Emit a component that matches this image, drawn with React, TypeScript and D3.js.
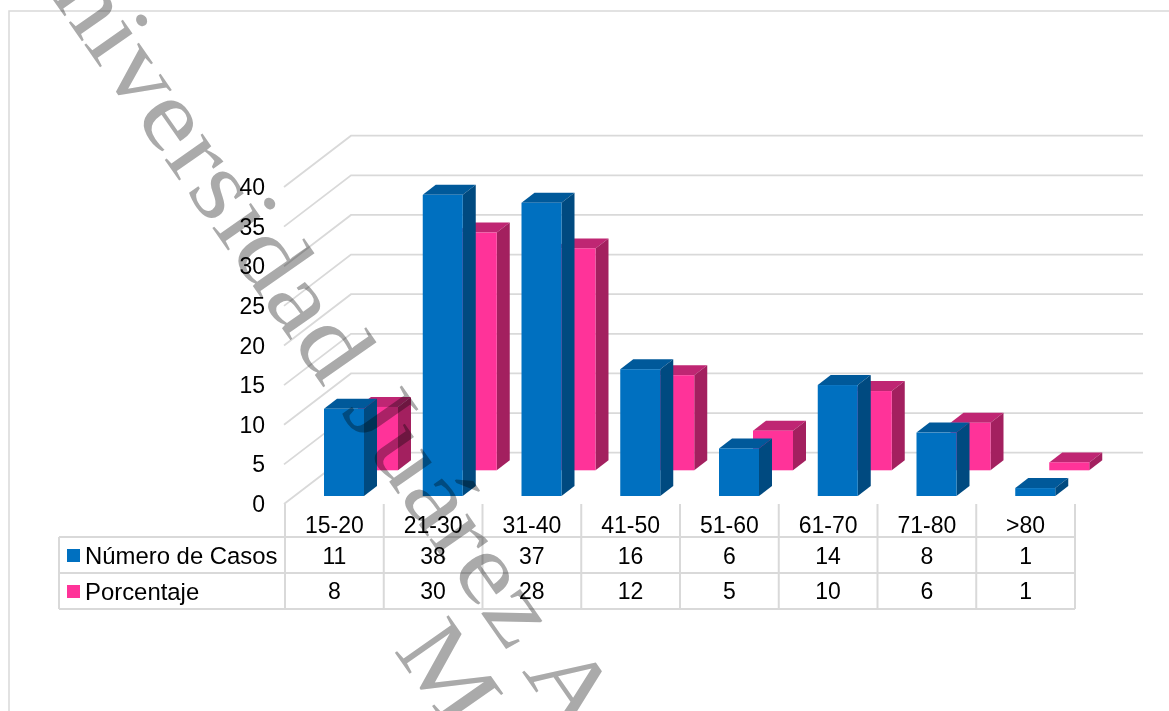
import React from "react";
import * as d3 from "d3";

const categories = ["15-20", "21-30", "31-40", "41-50", "51-60", "61-70", "71-80", ">80"];
const casos = [11, 38, 37, 16, 6, 14, 8, 1];
const porcentaje = [8, 30, 28, 12, 5, 10, 6, 1];
const axisTicks = [0, 5, 10, 15, 20, 25, 30, 35, 40];
const seriesNames = ["Número de Casos", "Porcentaje"];

const FONT = "'Liberation Sans', Arial, sans-serif";
const GRID = "#d9d9d9";
const FS = 23;

const BLUE = { front: "#0070c0", top: "#00599a", side: "#004a80" };
const PINK = { front: "#ff3399", top: "#bf2673", side: "#a3205f" };

// Table columns share the category band, the vertical scale is the front plane.
const x = d3.scaleBand<string>().domain(categories).range([285, 1075]);
const y = d3.scaleLinear().domain([0, 40]).range([504, 187]);

// Perspective offsets of the oblique projection.
const WALL = { dx: 67, dy: -51.3 };
const BAR_D = { dx: 13, dy: -10 };
const BAR_W = 40;
const BLUE_POS = { dx: 39, dy: -8 };
const PINK_POS = { dx: 73, dy: -33.7 };

const pts = (p: [number, number][]) => p.map((c) => c.join(",")).join(" ");

function Bar({ cat, value, pos, tone }: { cat: string; value: number; pos: { dx: number; dy: number }; tone: typeof BLUE }) {
  const x0 = x(cat)! + pos.dx;
  const x1 = x0 + BAR_W;
  const yb = y(0) + pos.dy;
  const yt = y(value) + pos.dy;
  const { dx, dy } = BAR_D;
  return (
    <g>
      <polygon fill={tone.top} points={pts([[x0, yt], [x1, yt], [x1 + dx, yt + dy], [x0 + dx, yt + dy]])} />
      <polygon fill={tone.side} points={pts([[x1, yt], [x1 + dx, yt + dy], [x1 + dx, yb + dy], [x1, yb]])} />
      <rect x={x0} y={yt} width={BAR_W} height={yb - yt} fill={tone.front} />
    </g>
  );
}

export default function App() {
  const rowY = [537, 573, 609];
  const colors = [BLUE.front, PINK.front];
  return (
    <svg
      width={1169}
      height={711}
      style={{ position: "fixed", left: 0, top: 0, background: "#fff" }}
      fontFamily={FONT}
      fontSize={FS}
    >
      <rect x={9} y={11} width={1300} height={900} fill="none" stroke={GRID} strokeWidth={1.5} />

      {/* Back wall and side wall gridlines */}
      <g stroke={GRID} strokeWidth={1.8} fill="none">
        {axisTicks.map((t) => (
          <polyline
            key={t}
            points={pts([[284, y(t)], [284 + WALL.dx, y(t) + WALL.dy], [1143, y(t) + WALL.dy]])}
          />
        ))}
      </g>

      {axisTicks.map((t) => (
        <text key={t} x={265} y={y(t)} textAnchor="end" dominantBaseline="central" fill="#000">
          {t}
        </text>
      ))}

      {categories.map((c, i) => (
        <Bar key={c} cat={c} value={porcentaje[i]} pos={PINK_POS} tone={PINK} />
      ))}
      {categories.map((c, i) => (
        <Bar key={c} cat={c} value={casos[i]} pos={BLUE_POS} tone={BLUE} />
      ))}

      {/* Data table under the plot */}
      <g stroke={GRID} strokeWidth={2} fill="none">
        <line x1={59} x2={1075} y1={rowY[0]} y2={rowY[0]} />
        <line x1={59} x2={1075} y1={rowY[1]} y2={rowY[1]} />
        <line x1={59} x2={1075} y1={rowY[2]} y2={rowY[2]} />
        <line x1={59} x2={59} y1={rowY[0]} y2={rowY[2]} />
        {categories.map((c) => (
          <line key={c} x1={x(c)} x2={x(c)} y1={504} y2={rowY[2]} />
        ))}
        <line x1={1075} x2={1075} y1={504} y2={rowY[2]} />
      </g>
      {categories.map((c, i) => {
        const cx = x(c)! + x.bandwidth() / 2;
        return (
          <g key={c} textAnchor="middle" dominantBaseline="central" fill="#000">
            <text x={cx} y={525}>{c}</text>
            <text x={cx} y={556}>{casos[i]}</text>
            <text x={cx} y={591}>{porcentaje[i]}</text>
          </g>
        );
      })}
      {seriesNames.map((name, r) => (
        <g key={name}>
          <rect x={67} y={549 + r * 36} width={13} height={13} fill={colors[r]} />
          <text x={85} y={555.5 + r * 36} dominantBaseline="central" fontSize={23.9} fill="#000">{name}</text>
        </g>
      ))}

      {/* Institutional watermark over the whole chart */}
      <g fontFamily="'Liberation Serif', 'Times New Roman', serif" fontSize={100} fill="#aaaaaa" style={{ mixBlendMode: "multiply" }}>
        <text transform="translate(2.6,-72.5) rotate(55.1) scale(1.15,1)">Universidad Juárez Autónoma</text>
        <text transform="translate(393,650) rotate(55.1) scale(1.15,1)">México</text>
      </g>
    </svg>
  );
}
